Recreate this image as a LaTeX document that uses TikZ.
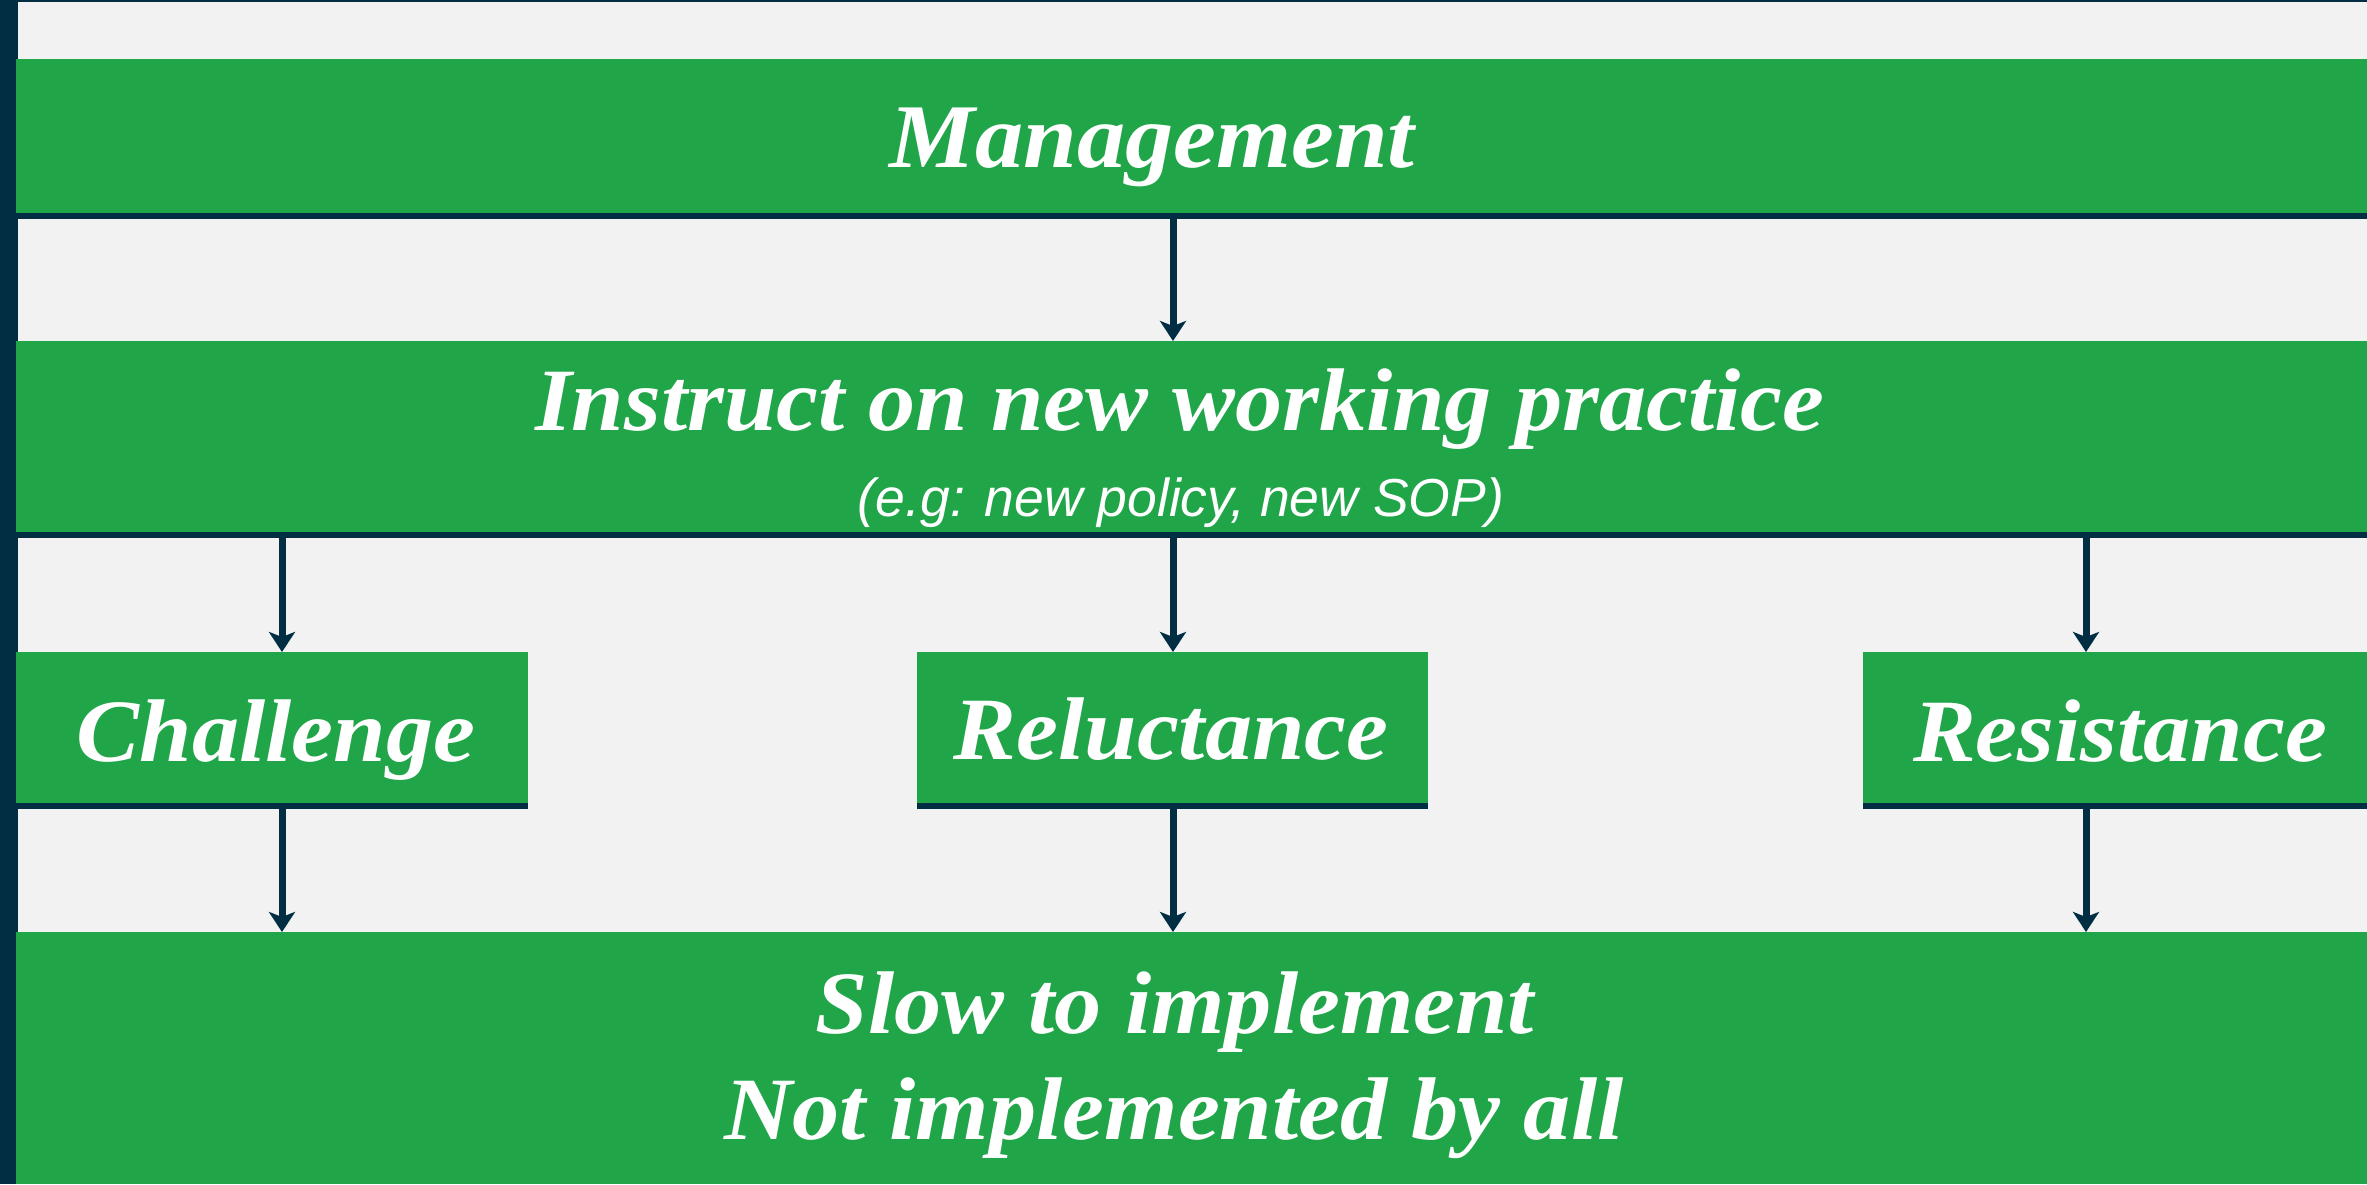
\documentclass[tikz,border=0pt]{standalone}
\usepackage{fontspec}
\usetikzlibrary{arrows.meta}
\newfontfamily\headfont[FakeStretch=1.06]{Liberation Serif}
\newfontfamily\notefont{Liberation Sans}
\definecolor{bgc}{HTML}{F2F2F2}
\definecolor{leaf}{HTML}{20A548}
\definecolor{navy}{HTML}{012E42}
\tikzset{
  box/.style={fill=leaf, draw=none, inner sep=0pt, outer sep=0pt, anchor=north west},
  head/.style={text=white, inner sep=0pt, anchor=base,
    font=\headfont\bfseries\itshape\fontsize{89}{100}\selectfont},
  note/.style={text=white, inner sep=0pt, anchor=base,
    font=\notefont\itshape\fontsize{53.5}{60}\selectfont},
  arr/.style={draw=navy, line width=7pt, -{Stealth[length=20pt, width=26pt, inset=5pt]}},
}
\begin{document}
\begin{tikzpicture}[x=1pt, y=-1pt]
  \useasboundingbox (0,0) rectangle (2367,1184);
  % page background and dark frame strips
  \fill[bgc] (0,0) rectangle (2367,1184);
  \fill[navy] (0,0) rectangle (2367,2);
  \fill[navy] (0,0) rectangle (18,1184);

  % arrow columns
  \coordinate (colA) at (282,0);
  \coordinate (colB) at (1173,0);
  \coordinate (colC) at (2086,0);

  % boxes
  \node[box, minimum width=2351pt, minimum height=154pt] (mg) at (16,59) {};
  \node[box, minimum width=2351pt, minimum height=191pt] (ins) at (16,341) {};
  \node[box, minimum width=512pt, minimum height=151pt] (ch) at (16,652) {};
  \node[box, minimum width=511pt, minimum height=151pt] (rl) at (917,652) {};
  \node[box, minimum width=504pt, minimum height=151pt] (rs) at (1863,652) {};
  \node[box, minimum width=2351pt, minimum height=252pt] (out) at (16,932) {};

  % dark rules under the boxes
  \foreach \b in {mg,ins,ch,rl,rs}
    \fill[navy] (\b.south west) rectangle ([yshift=-5.5pt]\b.south east);

  % labels
  \node[head, font=\headfont\bfseries\itshape\fontsize{91}{100}\selectfont] (tmg) at (1152,167) {Management};
  \node[head] (tins) at (1180,430) {Instruct on new working practice};
  \node[note] (tnote) at (1181,516) {(e.g: new policy, new SOP)};
  \node[head] (tch) at (276,761) {Challenge};
  \node[head] (trl) at (1171,759) {Reluctance};
  \node[head] (trs) at (2120,761) {Resistance};
  \node[head] (tout1) at (1175,1033) {Slow to implement};
  \node[head] (tout2) at (1174,1139) {Not implemented by all};

  % connectors
  \draw[arr] ([yshift=-5pt]mg.south -| colB) -- (ins.north -| colB);
  \draw[arr] ([yshift=-6pt]ins.south -| colA) -- (ch.north -| colA);
  \draw[arr] ([yshift=-6pt]ins.south -| colB) -- (rl.north -| colB);
  \draw[arr] ([yshift=-6pt]ins.south -| colC) -- (rs.north -| colC);
  \draw[arr] ([yshift=-5pt]ch.south -| colA) -- (out.north -| colA);
  \draw[arr] ([yshift=-5pt]rl.south -| colB) -- (out.north -| colB);
  \draw[arr] ([yshift=-5pt]rs.south -| colC) -- (out.north -| colC);
\end{tikzpicture}
\end{document}
